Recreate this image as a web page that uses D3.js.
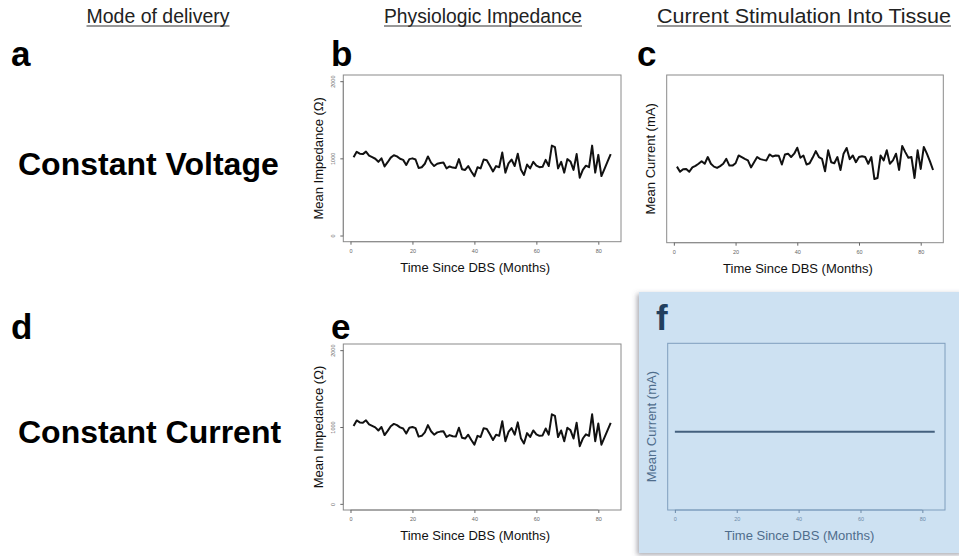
<!DOCTYPE html>
<html>
<head>
<meta charset="utf-8">
<script src="https://cdn.jsdelivr.net/npm/d3@7"></script>
<style>
  body { margin: 0; background: #fff; }
  svg { display: block; font-family: "Liberation Sans", Arial, sans-serif; }
</style>
</head>
<body>
<svg width="959" height="556"></svg>
<script>
var svg = d3.select("svg");

// months since DBS (x values of the two noisy series)
var months = d3.range(1, 85);

// mean impedance (ohm), panels b and e
var impedance = [1013, 1085, 1060, 1055, 1087, 1035, 1015, 995, 955, 1000,
  895, 950, 1010, 1040, 1025, 995, 980, 915, 990, 1000,
  985, 875, 885, 930, 1025, 945, 900, 930, 940, 945,
  870, 895, 880, 875, 990, 860, 850, 900, 830, 770,
  885, 870, 985, 975, 905, 830, 900, 885, 1075, 815,
  935, 985, 900, 1060, 855, 785, 920, 870, 955, 905,
  885, 890, 980, 900, 1165, 1145, 870, 955, 815, 990,
  960, 850, 1055, 750, 850, 905, 885, 1165, 815, 1045,
  770, 865, 960, 1055];

// mean current (mA, arbitrary scale - no y ticks in the original), panel c
var current = [2.70, 2.50, 2.60, 2.61, 2.50, 2.67, 2.73, 2.81, 2.91, 2.81,
  3.07, 2.81, 2.70, 2.65, 2.72, 2.81, 3.00, 2.74, 2.74, 2.83,
  3.13, 3.07, 3.00, 2.94, 2.67, 2.87, 3.07, 2.99, 2.96, 2.94,
  3.17, 3.09, 3.13, 3.12, 2.78, 3.17, 3.20, 3.07, 3.20, 3.43,
  3.04, 3.13, 2.78, 2.83, 3.05, 3.30, 3.07, 3.00, 2.52, 3.33,
  2.87, 2.83, 3.07, 2.57, 3.20, 3.42, 2.99, 3.13, 2.87, 3.07,
  3.10, 3.07, 2.81, 3.07, 2.22, 2.26, 3.13, 2.94, 3.33, 2.81,
  2.94, 3.20, 2.57, 3.50, 3.26, 3.04, 3.07, 2.26, 3.33, 2.61,
  3.46, 3.20, 2.90, 2.57];

// constant current, panel f
var constMonths = [0, 84];
var constCurrent = [2.8, 2.8];

var xTicks = [0, 20, 40, 60, 80];
var impedanceTicks = [0, 1000, 2000];

var headers = ["Mode of delivery", "Physiologic Impedance", "Current Stimulation Into Tissue"];
var rowLabels = ["Constant Voltage", "Constant Current"];
var letters = ["a", "b", "c", "d", "e", "f"];

var xlim = [-2.32, 87.32],
    impLim = [-80, 2080],
    curLim = [-0.24, 6.24];

var plain = {box: "#8a8a8a", tick: "#666", text: "#111", line: "#111", lw: 2},
    blue = {box: "#7f9ebd", tick: "#6d8aa8", text: "#4f6d8c", line: "#44607e", lw: 2};

// shaded card behind panel f
var defs = svg.append("defs");
var shadow = defs.append("filter").attr("id", "shadow")
    .attr("x", "-10%").attr("y", "-10%").attr("width", "120%").attr("height", "120%");
shadow.append("feDropShadow")
    .attr("dx", -2).attr("dy", 2).attr("stdDeviation", 2.5)
    .attr("flood-color", "#556").attr("flood-opacity", 0.5);

svg.append("rect")
    .attr("x", 639).attr("y", 292)
    .attr("width", 325).attr("height", 261)
    .attr("fill", "#cde1f2")
    .attr("filter", "url(#shadow)");

// column headers
var headerPos = [{x: 158, w: 143}, {x: 483, w: 198}, {x: 804, w: 294}];
headerPos.forEach(function(p, i) {
  svg.append("text")
      .attr("x", p.x).attr("y", 22.5)
      .attr("text-anchor", "middle")
      .attr("font-size", 20.5)
      .attr("textLength", p.w)
      .attr("lengthAdjust", "spacingAndGlyphs")
      .attr("fill", "#222")
      .text(headers[i]);
  svg.append("line")
      .attr("x1", p.x - p.w / 2).attr("x2", p.x + p.w / 2)
      .attr("y1", 26).attr("y2", 26)
      .attr("stroke", "#333").attr("stroke-width", 1.2);
});

// panel letters
var letterPos = [{x: 11, y: 66}, {x: 331, y: 66}, {x: 637, y: 66},
                 {x: 11, y: 339}, {x: 331, y: 339}, {x: 656, y: 330}];
letterPos.forEach(function(p, i) {
  svg.append("text")
      .attr("x", p.x).attr("y", p.y)
      .attr("font-size", 35)
      .attr("font-weight", "bold")
      .attr("fill", i == 5 ? "#223f5e" : "#000")
      .text(letters[i]);
});

// row labels
[175, 443].forEach(function(y, i) {
  svg.append("text")
      .attr("x", 18).attr("y", y)
      .attr("font-size", 32)
      .attr("font-weight", "bold")
      .attr("fill", "#000")
      .text(rowLabels[i]);
});

function drawPanel(o) {
  var x = d3.scaleLinear().domain(xlim).range([o.left, o.right]),
      y = d3.scaleLinear().domain(o.ylim).range([o.bottom, o.top]),
      th = o.theme;

  var g = svg.append("g");

  g.append("rect")
      .attr("x", o.left).attr("y", o.top)
      .attr("width", o.right - o.left).attr("height", o.bottom - o.top)
      .attr("fill", "none")
      .attr("stroke", th.box).attr("stroke-width", 1);

  var xAxis = d3.axisBottom(x).tickValues(xTicks).tickSize(3).tickPadding(4);
  var gx = g.append("g")
      .attr("transform", "translate(0," + o.bottom + ")")
      .call(xAxis);
  gx.select(".domain")
      .attr("d", "M" + x(0) + ",0H" + x(80))
      .attr("stroke", th.box);
  gx.selectAll(".tick line").attr("stroke", th.tick);
  gx.selectAll(".tick text")
      .attr("font-size", 5.5).attr("fill", th.tick)
      .attr("font-family", "inherit");

  if (o.yTicks) {
    var yAxis = d3.axisLeft(y).tickValues(o.yTicks)
        .tickFormat(d3.format("d"))
        .tickSize(3).tickPadding(3);
    var gy = g.append("g")
        .attr("transform", "translate(" + o.left + ",0)")
        .call(yAxis);
    gy.select(".domain")
        .attr("d", "M0," + y(0) + "V" + y(2000))
        .attr("stroke", th.box);
    gy.selectAll(".tick line").attr("stroke", th.tick);
    gy.selectAll(".tick text")
        .attr("font-size", 5.5).attr("fill", th.tick)
        .attr("font-family", "inherit")
        .attr("text-anchor", "middle")
        .attr("x", null).attr("dy", null)
        .attr("transform", "translate(-8,0) rotate(-90)");
  }

  var line = d3.line()
      .x(function(d) { return x(d[0]); })
      .y(function(d) { return y(d[1]); });

  g.append("path")
      .datum(d3.zip(o.xs, o.ys))
      .attr("fill", "none")
      .attr("stroke", th.line)
      .attr("stroke-width", th.lw)
      .attr("stroke-linejoin", "round")
      .attr("d", line);

  g.append("text")
      .attr("x", (o.left + o.right) / 2 - 7)
      .attr("y", o.bottom + 30)
      .attr("text-anchor", "middle")
      .attr("font-size", 13)
      .attr("fill", th.text)
      .text("Time Since DBS (Months)");

  g.append("text")
      .attr("transform", "translate(" + o.ytitleX + "," + (o.top + o.bottom) / 2 + ") rotate(-90)")
      .attr("text-anchor", "middle")
      .attr("font-size", 13)
      .attr("fill", th.text)
      .text(o.ytitle);
}

drawPanel({left: 343.3, right: 621, top: 75, bottom: 241.7,
  xs: months, ys: impedance, ylim: impLim, yTicks: impedanceTicks,
  ytitle: "Mean Impedance (\u03A9)", ytitleX: 323, theme: plain});

drawPanel({left: 666.7, right: 943.3, top: 75, bottom: 242.7,
  xs: months, ys: current, ylim: curLim,
  ytitle: "Mean Current (mA)", ytitleX: 655, theme: plain});

drawPanel({left: 343.3, right: 621, top: 344, bottom: 510,
  xs: months, ys: impedance, ylim: impLim, yTicks: impedanceTicks,
  ytitle: "Mean Impedance (\u03A9)", ytitleX: 323, theme: plain});

drawPanel({left: 667.7, right: 945, top: 343.3, bottom: 510,
  xs: constMonths, ys: constCurrent, ylim: curLim,
  ytitle: "Mean Current (mA)", ytitleX: 656, theme: blue});
</script>
</body>
</html>
